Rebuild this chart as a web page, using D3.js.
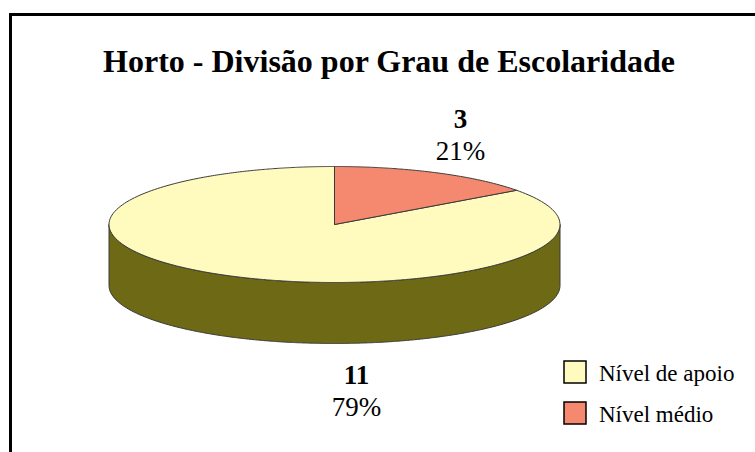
<!DOCTYPE html>
<html>
<head>
<meta charset="utf-8">
<script src="https://cdn.jsdelivr.net/npm/d3@7"></script>
<style>
  body { margin: 0; background: #fff; }
  text { font-family: "Liberation Serif", "Times New Roman", serif; fill: #000; }
</style>
</head>
<body>
<div id="chart"></div>
<script>
// data
var categories = ["Nível de apoio", "Nível médio"];
var values = [11, 3];
var percents = ["79%", "21%"];
var title = "Horto - Divisão por Grau de Escolaridade";

// colours
var topColors = ["#FFFBBE", "#F5896F"];
var sideColors = ["#6D6914", "#8A4A3A"];

// layout
var W = 755, H = 452;
var cx = 334.5, cy = 224.5, rx = 225.5, ry = 58, depth = 61;
var squash = 3.2; // how angles are flattened by the 3d view
// label anchors, relative to pie centre (placed by hand in the original)
var labelOffset = [[22, 159], [126, -97]];

var svg = d3.select("#chart").append("svg")
   .attr("width", W).attr("height", H);

// frame
svg.append("rect")
   .attr("x", 10.5).attr("y", 14.5)
   .attr("width", 800).attr("height", 500)
   .attr("fill", "none").attr("stroke", "#000").attr("stroke-width", 3);

// title
svg.append("text")
   .attr("x", 389).attr("y", 72)
   .attr("text-anchor", "middle")
   .style("font-size", "32px").style("font-weight", "bold")
   .text(title);

// pie angles (counter clockwise from 12 o'clock, so the small slice lands on the right)
var arcs = d3.pie().sort(null).startAngle(0).endAngle(-2 * Math.PI)(values);

function pt(theta, dy) {
   var phi = Math.atan2(Math.sin(theta), squash * Math.cos(theta));
   return [cx + rx * Math.sin(phi), cy - ry * Math.cos(phi) + (dy || 0)];
}
function sample(a0, a1, dy) {
   var n = Math.max(2, Math.ceil(Math.abs(a1 - a0) / 0.01));
   return d3.range(n + 1).map(function(i) { return pt(a0 + (a1 - a0) * i / n, dy); });
}
var line = d3.line();

// sides (front half only)
var gSide = svg.append("g");
arcs.forEach(function(a, i) {
   var lo = Math.min(a.startAngle, a.endAngle), hi = Math.max(a.startAngle, a.endAngle);
   [-1, 0, 1].forEach(function(k) {
      var f0 = Math.PI / 2 + 2 * Math.PI * k, f1 = 3 * Math.PI / 2 + 2 * Math.PI * k;
      var s = Math.max(lo, f0), e = Math.min(hi, f1);
      if (e - s <= 0) return;
      var pts = sample(s, e, 0).concat(sample(e, s, depth));
      gSide.append("path")
         .attr("d", line(pts) + "Z")
         .attr("fill", sideColors[i])
         .attr("stroke", "#3a3a3a").attr("stroke-width", 1)
         .attr("stroke-linejoin", "round");
   });
});

// top faces
svg.append("g").selectAll("path").data(arcs).enter()
   .append("path")
   .attr("d", function(a) {
      return line([[cx, cy]].concat(sample(a.startAngle, a.endAngle, 0))) + "Z";
   })
   .attr("fill", function(a, i) { return topColors[i]; })
   .attr("stroke", "#3a3a3a").attr("stroke-width", 1)
   .attr("stroke-linejoin", "round");

// data labels
var gLab = svg.append("g");
arcs.forEach(function(a, i) {
   var x = cx + labelOffset[i][0], y = cy + labelOffset[i][1];
   gLab.append("text")
      .attr("x", x).attr("y", y)
      .attr("text-anchor", "middle")
      .style("font-size", "27px").style("font-weight", "bold")
      .text(values[i]);
   gLab.append("text")
      .attr("x", x).attr("y", y + 32)
      .attr("text-anchor", "middle")
      .style("font-size", "27px")
      .text(percents[i]);
});

// legend
var legend = svg.append("g").attr("transform", "translate(564,361)");
var items = legend.selectAll("g").data(categories).enter()
   .append("g")
   .attr("transform", function(d, i) { return "translate(0," + (i * 41) + ")"; });
items.append("rect")
   .attr("width", 22).attr("height", 22)
   .attr("fill", function(d, i) { return topColors[i]; })
   .attr("stroke", "#000").attr("stroke-width", 1.5);
items.append("text")
   .attr("x", 35).attr("y", 20)
   .style("font-size", "23px")
   .text(function(d) { return d; });
</script>
</body>
</html>
